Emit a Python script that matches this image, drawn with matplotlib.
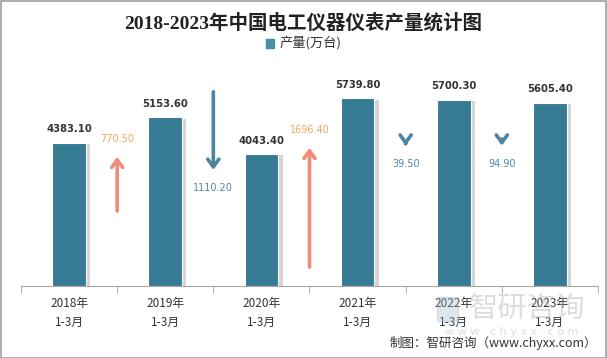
import matplotlib
matplotlib.use("Agg")
import matplotlib.pyplot as plt
from matplotlib.patches import Patch, Rectangle
import numpy as np

plt.rcParams['font.family'] = ['Noto Sans CJK SC', 'DejaVu Sans']

# --- datos ---
years = ["2018年", "2019年", "2020年", "2021年", "2022年", "2023年"]
period = "1-3月"
output = [4383.10, 5153.60, 4043.40, 5739.80, 5700.30, 5605.40]
series_name = "产量(万台)"
title = "2018-2023年中国电工仪器仪表产量统计图"
source = "制图：智研咨询（www.chyxx.com）"

# altura de la punta de cada flecha (datos), solo posicion
arrow_heads = [3950, 3550, 4225, 4290, 4290]

BAR_COLOR = "#367B94"
UP_ARROW = "#F08C78"
UP_TEXT = "#F4A460"
DOWN_ARROW = "#4A86A0"
DOWN_TEXT = "#4A8AAA"

fig = plt.figure(figsize=(6.07, 3.58), dpi=100)
ax = fig.add_axes([21 / 607, 72 / 358, 577 / 607, 229 / 358])

x = np.arange(len(output))
vals = np.array(output)

# sombra de las barras
ax.bar(x + 0.045, vals * 0.993, width=0.35, color="#c4c4c4", alpha=0.7, zorder=1)
ax.bar(x, vals, width=0.35, color=BAR_COLOR, edgecolor="white", linewidth=0.8, zorder=2)

for xi, v in zip(x, vals):
    ax.annotate(f"{v:.2f}", (xi, v), xytext=(0, 9.5), textcoords="offset points",
                ha="center", va="center", fontsize=7.2, fontweight="bold",
                color="#333333", family="DejaVu Sans")

# flechas de variacion
changes = np.diff(vals)
for i, (c, head) in enumerate(zip(changes, arrow_heads)):
    xb = i + 0.5
    up = c > 0
    length = abs(c) * 2.15
    tail = head - length if up else head + length
    col = UP_ARROW if up else DOWN_ARROW
    ax.annotate("", xy=(xb, head), xytext=(xb, tail),
                arrowprops=dict(arrowstyle="->,head_length=0.55,head_width=0.4",
                                color=col, lw=2.6, shrinkA=0, shrinkB=0),
                zorder=3)
    ax.annotate(f"{abs(c):.2f}", (xb, head), xytext=(0, 13 if up else -13),
                textcoords="offset points", ha="center", va="center",
                fontsize=7, color=UP_TEXT if up else DOWN_TEXT, family="DejaVu Sans")

ax.set_xlim(-0.5, len(output) - 0.5)
ax.set_ylim(0, 7000)
ax.set_yticks([])
for s in ["left", "right", "top"]:
    ax.spines[s].set_visible(False)
ax.spines["bottom"].set_color("#a6a6a6")

ax.set_xticks(x)
ax.set_xticklabels([f"{y}\n{period}" for y in years], fontsize=8.5, color="#333333",
                   linespacing=1.55)
ax.tick_params(axis="x", which="major", length=0, pad=8)
ax.set_xticks(np.arange(-0.5, len(output)), minor=True)
ax.tick_params(axis="x", which="minor", length=5, color="#a6a6a6")

fig.text(0.5, 1 - 23 / 358, title, ha="center", va="center", fontsize=14,
         fontweight="bold", color="#222222", family=["Liberation Serif", "Noto Sans CJK SC"])

fig.legend(handles=[Patch(color="#4A8FA8")], labels=[series_name],
           loc="center", bbox_to_anchor=(0.5, 1 - 44 / 358), frameon=False,
           fontsize=9.5, handlelength=0.6, handleheight=0.6, handletextpad=0.4,
           labelcolor="#333333")

# marca de agua
fig.patches.append(Rectangle((437 / 607, 1 - 321 / 358), 21 / 607, 24 / 358,
                             transform=fig.transFigure, color="#9fb8cc", alpha=0.35,
                             zorder=0))
fig.text(527 / 607, 1 - 309 / 358, "智研咨询", ha="center", va="center", fontsize=21,
         color="#b8bcc0", alpha=0.5)
fig.text(512 / 607, 1 - 332 / 358, "w w w . c h y x x . c o m", ha="center", va="center",
         fontsize=8, color="#b8bcc0", alpha=0.5, family="DejaVu Sans")

fig.text(597 / 607, 1 - 343 / 358, source, ha="right", va="center", fontsize=9,
         color="#333333")

fig.patches.append(Rectangle((0.5 / 607, 0.5 / 358), 605.5 / 607, 356.5 / 358,
                             transform=fig.transFigure, fill=False,
                             edgecolor="#a0a0a0", lw=1.2))

fig.savefig("out.png", dpi=100)
